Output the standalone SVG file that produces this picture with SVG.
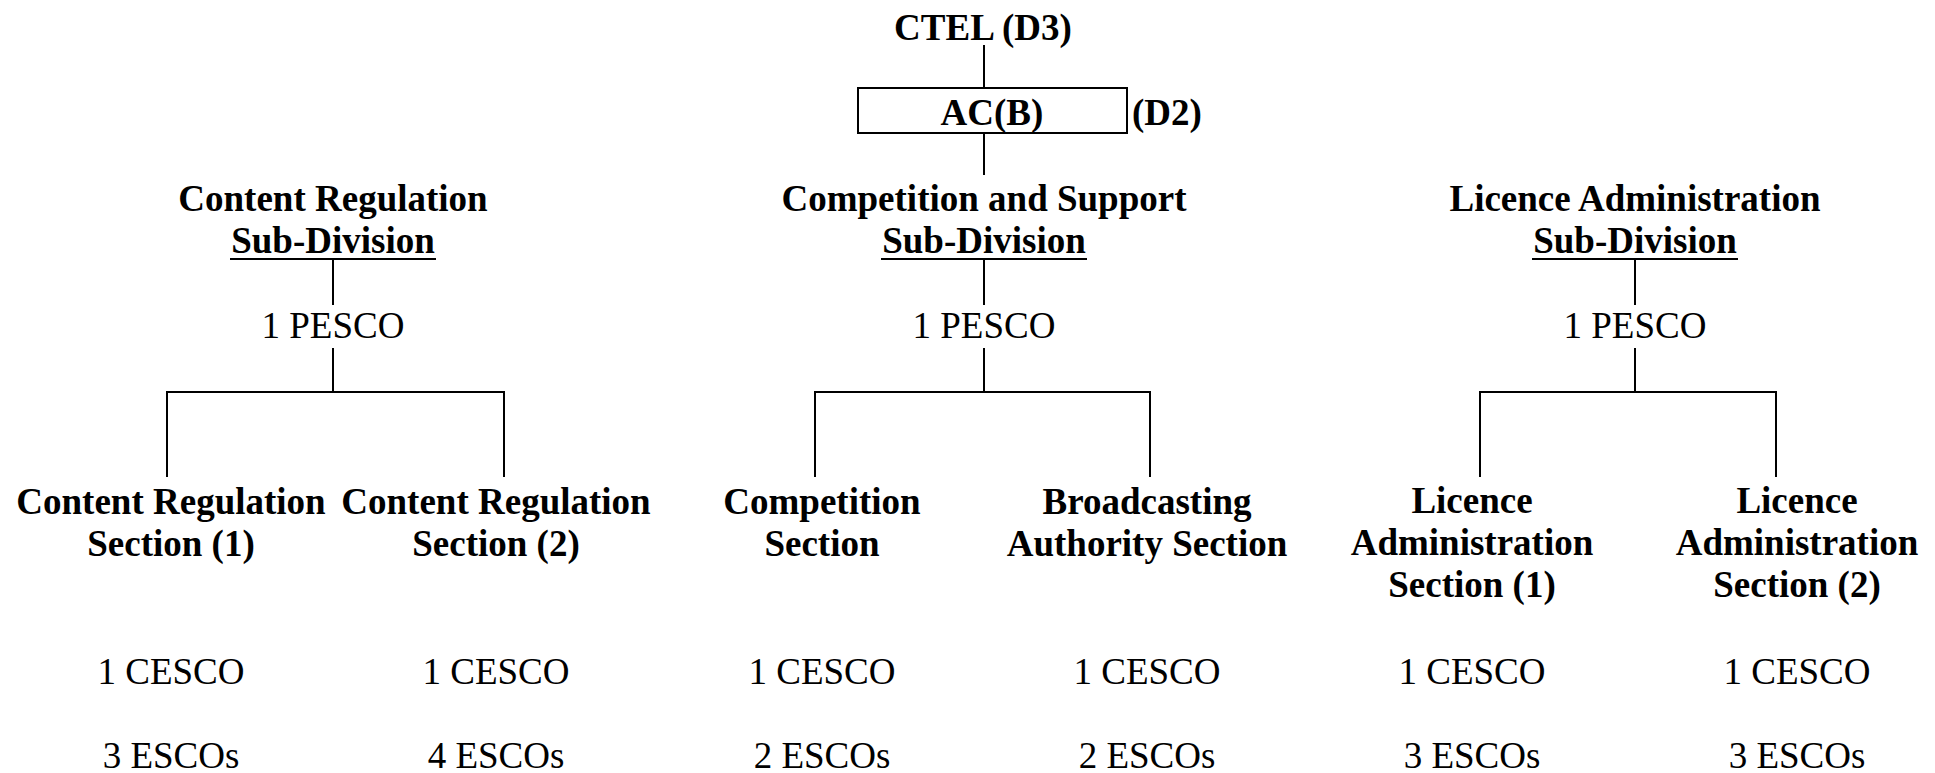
<svg xmlns="http://www.w3.org/2000/svg" width="1935" height="773" viewBox="0 0 1935 773">
<style>
text{font-family:"Liberation Serif","Times New Roman",serif;font-size:37px;fill:#000;text-anchor:middle}
.b{font-weight:bold}
.l{stroke:#000;stroke-width:2;fill:none}
</style>
<rect width="1935" height="773" fill="#fff"/>
<g id="connectors" class="l">
<line x1="984" y1="45" x2="984" y2="88"/>
<line x1="984" y1="133" x2="984" y2="175"/>
<line x1="333" y1="259" x2="333" y2="305"/>
<line x1="333" y1="348" x2="333" y2="392"/>
<polyline points="167,477 167,392 504,392 504,477"/>
<line x1="984" y1="259" x2="984" y2="305"/>
<line x1="984" y1="348" x2="984" y2="392"/>
<polyline points="815,477 815,392 1150,392 1150,477"/>
<line x1="1635" y1="259" x2="1635" y2="305"/>
<line x1="1635" y1="348" x2="1635" y2="392"/>
<polyline points="1480,477 1480,392 1776,392 1776,477"/>
</g>
<g id="ctel"><text class="b" x="983" y="40">CTEL (D3)</text></g>
<g id="acb">
<rect class="l" x="858" y="88" width="269" height="45"/>
<text class="b" x="992" y="125">AC(B)</text>
<text class="b" x="1132" y="125" style="text-anchor:start">(D2)</text>
</g>
<g id="sub-content">
<text class="b" x="333" y="211">Content Regulation</text>
<text class="b" x="333" y="253">Sub-Division</text>
<line class="l" x1="230" y1="259" x2="436" y2="259"/>
<text x="333" y="338">1 PESCO</text>
</g>
<g id="sub-competition">
<text class="b" x="984" y="211">Competition and Support</text>
<text class="b" x="984" y="253">Sub-Division</text>
<line class="l" x1="881" y1="259" x2="1087" y2="259"/>
<text x="984" y="338">1 PESCO</text>
</g>
<g id="sub-licence">
<text class="b" x="1635" y="211">Licence Administration</text>
<text class="b" x="1635" y="253">Sub-Division</text>
<line class="l" x1="1532" y1="259" x2="1738" y2="259"/>
<text x="1635" y="338">1 PESCO</text>
</g>
<g id="sec-cr1">
<text class="b" x="171" y="514">Content Regulation</text>
<text class="b" x="171" y="556">Section (1)</text>
<text x="171" y="684">1 CESCO</text>
<text x="171" y="768">3 ESCOs</text>
</g>
<g id="sec-cr2">
<text class="b" x="496" y="514">Content Regulation</text>
<text class="b" x="496" y="556">Section (2)</text>
<text x="496" y="684">1 CESCO</text>
<text x="496" y="768">4 ESCOs</text>
</g>
<g id="sec-comp">
<text class="b" x="822" y="514">Competition</text>
<text class="b" x="822" y="556">Section</text>
<text x="822" y="684">1 CESCO</text>
<text x="822" y="768">2 ESCOs</text>
</g>
<g id="sec-bas">
<text class="b" x="1147" y="514">Broadcasting</text>
<text class="b" x="1147" y="556">Authority Section</text>
<text x="1147" y="684">1 CESCO</text>
<text x="1147" y="768">2 ESCOs</text>
</g>
<g id="sec-la1">
<text class="b" x="1472" y="513">Licence</text>
<text class="b" x="1472" y="555">Administration</text>
<text class="b" x="1472" y="597">Section (1)</text>
<text x="1472" y="684">1 CESCO</text>
<text x="1472" y="768">3 ESCOs</text>
</g>
<g id="sec-la2">
<text class="b" x="1797" y="513">Licence</text>
<text class="b" x="1797" y="555">Administration</text>
<text class="b" x="1797" y="597">Section (2)</text>
<text x="1797" y="684">1 CESCO</text>
<text x="1797" y="768">3 ESCOs</text>
</g>
</svg>
